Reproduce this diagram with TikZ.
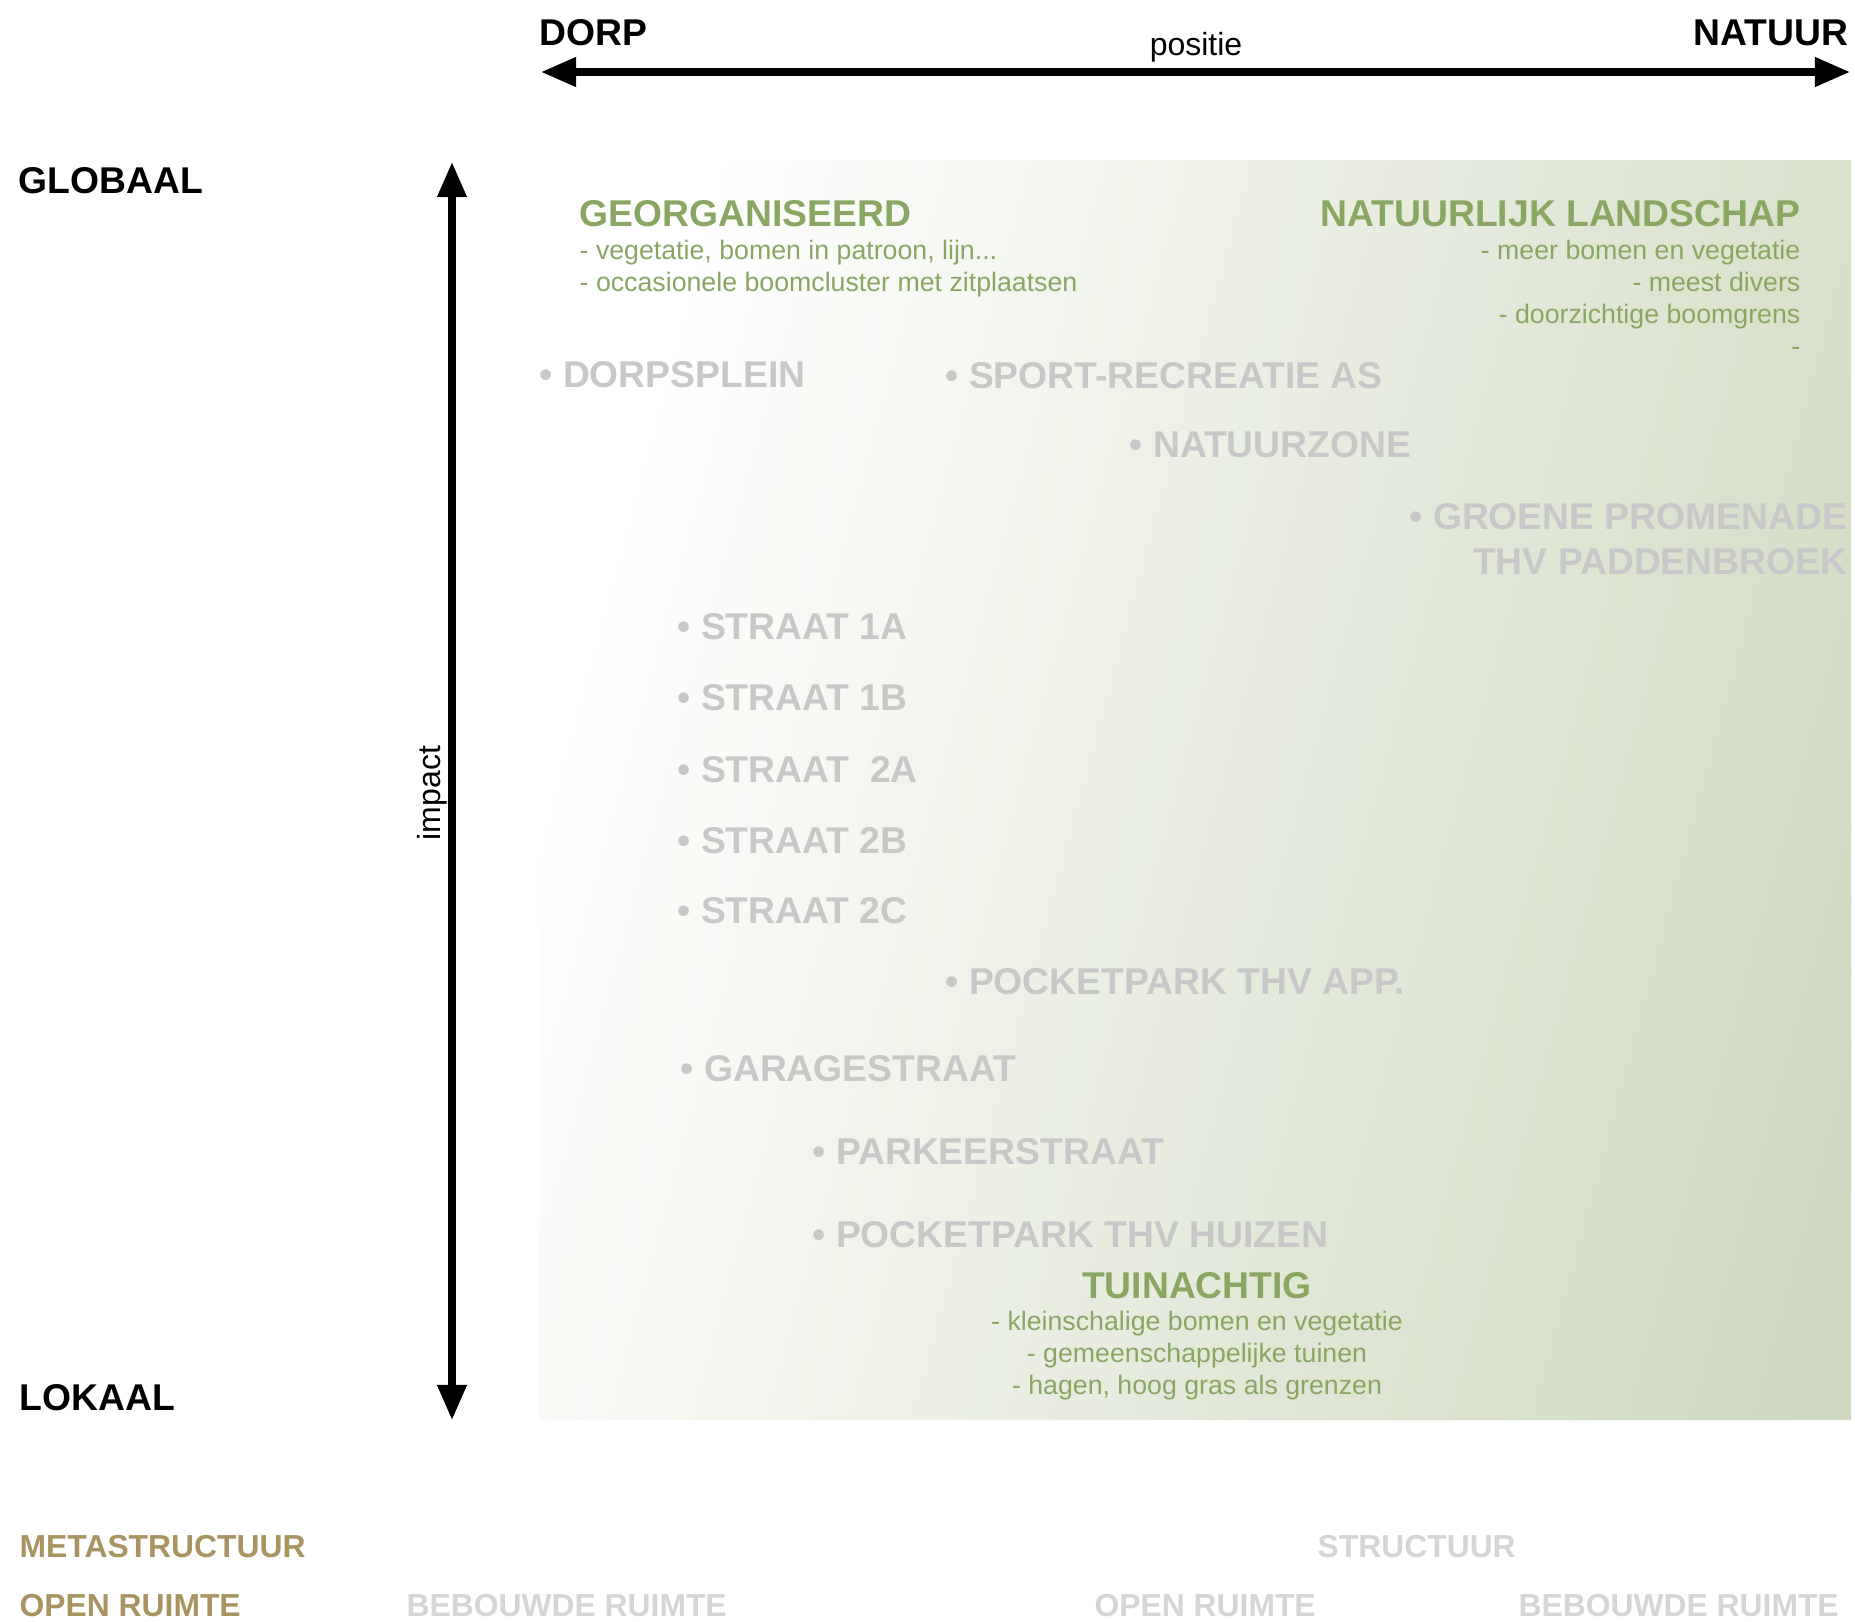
\documentclass[tikz,border=0pt]{standalone}
\usepackage{fontspec}
\setmainfont{Liberation Sans}
\usepackage{tikz}
\usetikzlibrary{arrows.meta}

\definecolor{leafgreen}{HTML}{8AA663}
\definecolor{fieldgreen}{HTML}{D0DAC0}
\definecolor{itemgrey}{HTML}{C8C8C8}
\definecolor{metabrown}{HTML}{A89461}
\definecolor{palegrey}{HTML}{D5D5D5}

\tikzset{
  axisarrow/.style={line width=2pt, {Triangle[length=10pt,width=8pt]}-{Triangle[length=10pt,width=8pt]}},
  bigbold/.style={font=\fontsize{10.6}{12.8}\selectfont\bfseries, inner sep=0pt},
  axislabel/.style={bigbold, text=black, anchor=base west},
  spot/.style={bigbold, text=itemgrey, anchor=base west},
  typehead/.style={bigbold, text=leafgreen},
  typelist/.style={font=\fontsize{7.6}{9.1}\selectfont, text=leafgreen, inner sep=0pt},
  footlabel/.style={font=\fontsize{9.05}{10.9}\selectfont\bfseries, inner sep=0pt, anchor=base west},
}

\begin{document}
\begin{tikzpicture}[x=0.01cm, y=-0.01cm]
  \useasboundingbox (0,0) rectangle (1855,1621);

  % Field with tilted gradient
  \begin{scope}
    \clip (539,160) rectangle (1851,1420);
    \foreach \i [evaluate=\i as \t using int(\i*100/70)] in {0,...,70} {
      \fill[fieldgreen!\t!white] (350+20*\i,1420) -- ++(340,-1260) -- ++(40,0) -- ++(-340,1260) -- cycle;
    }
    \fill[fieldgreen] (1770,1420) -- (2110,160) -- (2200,160) -- (2200,1420) -- cycle;
  \end{scope}

  % Axes
  \coordinate (posL) at (541,72);
  \coordinate (posR) at (1850,72);
  \draw[axisarrow] (posL) -- (posR);
  \node[axislabel] (dorp) at (539,45) {DORP};
  \node[axislabel, anchor=base east] (natuur) at (1849,45) {NATUUR};
  \node[font=\fontsize{9.1}{11}\selectfont, inner sep=0pt, anchor=base] (positie) at (1196,55) {positie};

  \coordinate (impTop) at (452,162);
  \coordinate (impBot) at (452,1420);
  \draw[axisarrow] (impTop) -- (impBot);
  \node[font=\fontsize{9.1}{11}\selectfont, inner sep=0pt, rotate=90, anchor=base] (impact) at (440,793) {impact};

  \node[axislabel] (globaal) at (18,193) {GLOBAAL};
  \node[axislabel] (lokaal) at (19,1410) {LOKAAL};

  % Types of green
  \node[typehead, anchor=base west] (georg) at (579,226) {GEORGANISEERD};
  \node[typelist, align=left, anchor=north west] (georgList) at (579,239)
    {- vegetatie, bomen in patroon, lijn...\\- occasionele boomcluster met zitplaatsen};

  \node[typehead, anchor=base east] (natLand) at (1801,226) {NATUURLIJK LANDSCHAP};
  \node[typelist, align=right, anchor=north east] (natList) at (1801,239)
    {- meer bomen en vegetatie\\- meest divers\\- doorzichtige boomgrens\\-};

  \node[typehead, anchor=base] (tuin) at (1197,1298) {TUINACHTIG};
  \node[typelist, align=center, anchor=north] (tuinList) at (1197,1310)
    {- kleinschalige bomen en vegetatie\\- gemeenschappelijke tuinen\\- hagen, hoog gras als grenzen};

  % Places
  \node[spot] (dorpsplein) at (539,387) {• DORPSPLEIN};
  \node[spot] (sport) at (945,388) {• SPORT-RECREATIE AS};
  \node[spot] (natuurzone) at (1129,457) {• NATUURZONE};
  \node[spot, align=right, anchor=north east] (promenade) at (1848,503) {• GROENE PROMENADE\\THV PADDENBROEK};
  \node[spot] (straatA) at (677,639) {• STRAAT 1A};
  \node[spot] (straatB) at (677,710) {• STRAAT 1B};
  \node[spot] (straatC) at (677,782) {• STRAAT\ \ 2A};
  \node[spot] (straatD) at (677,853) {• STRAAT 2B};
  \node[spot] (straatE) at (677,923) {• STRAAT 2C};
  \node[spot] (pocketApp) at (945,994) {• POCKETPARK THV APP.};
  \node[spot] (garage) at (680,1081) {• GARAGESTRAAT};
  \node[spot] (parkeer) at (812,1164) {• PARKEERSTRAAT};
  \node[spot] (pocketHuizen) at (812,1247) {• POCKETPARK THV HUIZEN};

  % Legend below
  \node[footlabel, text=metabrown] (meta) at (19,1557) {METASTRUCTUUR};
  \node[footlabel, text=palegrey] (struct) at (1317,1557) {STRUCTUUR};
  \node[footlabel, text=metabrown] (openL) at (19,1616) {OPEN RUIMTE};
  \node[footlabel, text=palegrey] (bebouwdL) at (406,1616) {BEBOUWDE RUIMTE};
  \node[footlabel, text=palegrey] (openR) at (1094,1616) {OPEN RUIMTE};
  \node[footlabel, text=palegrey] (bebouwdR) at (1518,1616) {BEBOUWDE RUIMTE};

\end{tikzpicture}
\end{document}
